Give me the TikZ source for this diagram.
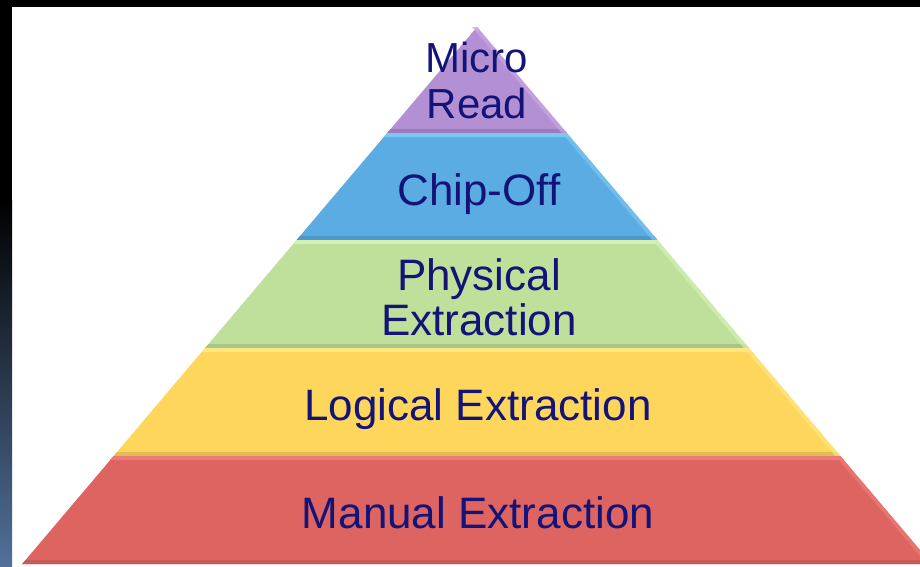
\documentclass[tikz,border=0pt]{standalone}
\usepackage{fontspec}
\setmainfont{Liberation Sans}
\definecolor{txt}{HTML}{141478}
\definecolor{purF}{HTML}{B390D3}\definecolor{purL}{HTML}{C9A8E6}\definecolor{purD}{HTML}{9C7BBB}
\definecolor{bluF}{HTML}{5AACE2}\definecolor{bluL}{HTML}{7CC6F2}\definecolor{bluD}{HTML}{4E98C9}
\definecolor{grnF}{HTML}{BEE09A}\definecolor{grnL}{HTML}{D3F0B4}\definecolor{grnD}{HTML}{A6C789}
\definecolor{yelF}{HTML}{FED65C}\definecolor{yelL}{HTML}{FFE680}\definecolor{yelD}{HTML}{E2BD54}
\definecolor{redF}{HTML}{DD6460}\definecolor{redL}{HTML}{EC7B76}\definecolor{redD}{HTML}{C65A57}
\definecolor{stripB}{HTML}{52709A}
\newcommand\pyrlayer[5]{%
  \pgfmathsetmacro\wa{0.847*(#1-27)}%
  \pgfmathsetmacro\wb{0.847*(#2-27)}%
  \pgfmathsetmacro\wc{0.847*(#1+4-27)}%
  \pgfmathsetmacro\wd{0.847*(#2-4-27)}%
  \fill[#3] (477-\wa,#1) -- (477+\wa,#1) -- (477+\wb,#2) -- (477-\wb,#2) -- cycle;
  \fill[#4] (477-\wa,#1) -- (477+\wa,#1) -- (477+\wc,#1+4) -- (477-\wc,#1+4) -- cycle;
  \fill[#5] (477-\wd,#2-4) -- (477+\wd,#2-4) -- (477+\wb,#2) -- (477-\wb,#2) -- cycle;
  \fill[#4,opacity=0.7] (477+\wa,#1) -- (477+\wb,#2) -- (477+\wb-5,#2) -- (477+\wa-5,#1) -- cycle;
}
\tikzset{lbl/.style={text=txt,font=\fontsize{44}{46}\selectfont,anchor=base,inner sep=0pt},
         lbls/.style={lbl,font=\fontsize{42}{46}\selectfont}}
\begin{document}
\begin{tikzpicture}[x=1pt,y=-1pt]
\useasboundingbox (0,0) rectangle (920,566);
\fill[white] (0,0) rectangle (920,566);
\begin{scope}
\clip (0,0) rectangle (920,566);
\pyrlayer{27}{133}{purF}{purL}{purD}
\pyrlayer{133}{240}{bluF}{bluL}{bluD}
\pyrlayer{240}{348}{grnF}{grnL}{grnD}
\pyrlayer{348}{456}{yelF}{yelL}{yelD}
\pyrlayer{456}{564}{redF}{redL}{redD}
\end{scope}
% frame
\fill[black] (0,0) rectangle (920,7);
\fill[black] (0,0) rectangle (12,200);
\shade[top color=black,bottom color=stripB] (0,200) rectangle (12,566);
% labels
\node[lbls] (micro) at (477,72) {Micro};
\node[lbls] (read) at (477,118) {Read};
\node[lbl] (chip) at (479,205) {Chip-Off};
\node[lbl] (phys) at (479,290) {Physical};
\node[lbl] (physx) at (479,335) {Extraction};
\node[lbl] (logi) at (478,420) {Logical Extraction};
\node[lbl] (manu) at (478,528) {Manual Extraction};
\end{tikzpicture}
\end{document}
